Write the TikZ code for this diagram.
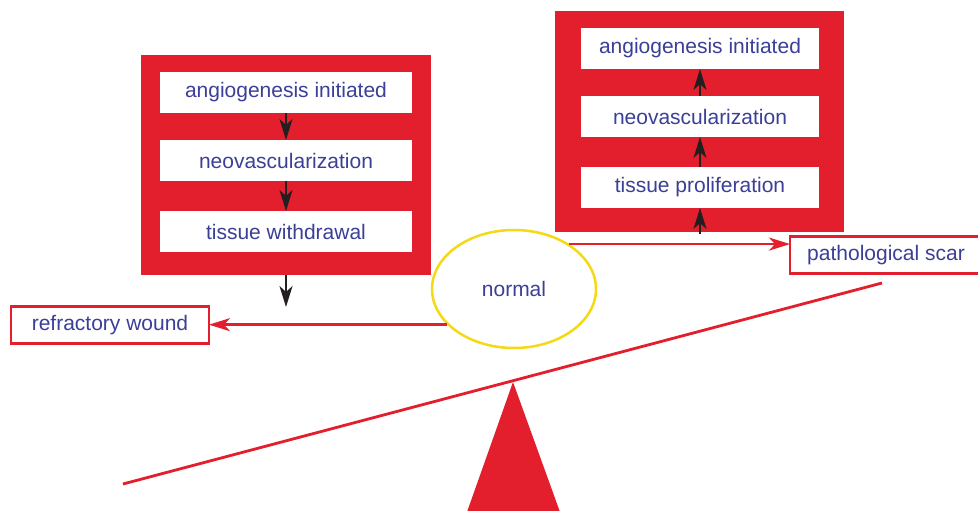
\documentclass[tikz,border=0pt]{standalone}
\usepackage{fontspec}
\setmainfont{Liberation Sans}
\usetikzlibrary{shapes.geometric,arrows.meta,calc}
\definecolor{myred}{HTML}{E31E2D}
\definecolor{myblue}{HTML}{3B3F97}
\definecolor{myyellow}{HTML}{F4D914}
\definecolor{myblack}{HTML}{231F20}
\begin{document}
\begin{tikzpicture}[x=1pt,y=-1pt,
  lbl/.style={font=\fontsize{21}{25}\selectfont, text=myblue},
  redpanel/.style={fill=myred, draw=none, inner sep=0pt, outer sep=0pt},
  whitebox/.style={lbl, fill=white, draw=none, inner sep=0pt, outer sep=0pt, minimum height=41pt},
  outcome/.style={lbl, fill=white, draw=myred, line width=2.5pt, inner sep=0pt, outer sep=0pt, minimum height=37pt},
  blackarrow/.style={draw=myblack, line width=2pt, -{Stealth[length=21pt,width=13pt,inset=6pt]}},
  redarrow/.style={draw=myred, line width=2.5pt, -{Stealth[length=21pt,width=13pt,inset=6pt]}},
  oval/.style={lbl, ellipse, draw=myyellow, line width=2.5pt, fill=white, inner sep=0pt, minimum width=164pt, minimum height=118pt}
]
\useasboundingbox (0,0) rectangle (978,511);
\fill[white] (0,0) rectangle (978,511);

% seesaw
\coordinate (sl) at (123,484);
\coordinate (sr) at (882,283);
\draw[myred, line width=2.8pt] (sl) -- (sr);
\fill[myred] (513,382) -- (467,512) -- (560,512) -- cycle;

% left panel
\node[redpanel, minimum width=290pt, minimum height=220pt] (L) at (286,165) {};
\node[whitebox, minimum width=252pt] (la) at (286,92.5) {angiogenesis initiated};
\node[whitebox, minimum width=252pt] (lb) at (286,160.5) {neovascularization};
\node[whitebox, minimum width=252pt] (lc) at (286,231.5) {tissue withdrawal};
\draw[blackarrow] (la.south) -- (lb.north);
\draw[blackarrow] (lb.south) -- (lc.north);
\coordinate (ld) at (286,307);
\draw[blackarrow] (L.south) -- (ld);

% right panel
\node[redpanel, minimum width=289pt, minimum height=221pt] (R) at (699.5,121.5) {};
\node[whitebox, minimum width=238pt] (ra) at (700,48.5) {angiogenesis initiated};
\node[whitebox, minimum width=238pt] (rb) at (700,116.5) {neovascularization};
\node[whitebox, minimum width=238pt] (rc) at (700,187.5) {tissue proliferation};
\draw[blackarrow] (rb.north) -- (ra.south);
\draw[blackarrow] (rc.north) -- (rb.south);
\coordinate (ru) at (700,234);
\draw[blackarrow] (ru) -- (rc.south);

% normal
\node[oval] (N) at (514,289) {normal};

% outcomes
\node[outcome, minimum width=198pt] (W) at (110,325) {refractory wound};
\node[outcome, minimum width=192pt] (P) at (886,255) {pathological scar};

\draw[redarrow] (N.208) -- (N.208 -| W.east);
\draw[redarrow] (N.39) -- (N.39 -| P.west);
\end{tikzpicture}
\end{document}
